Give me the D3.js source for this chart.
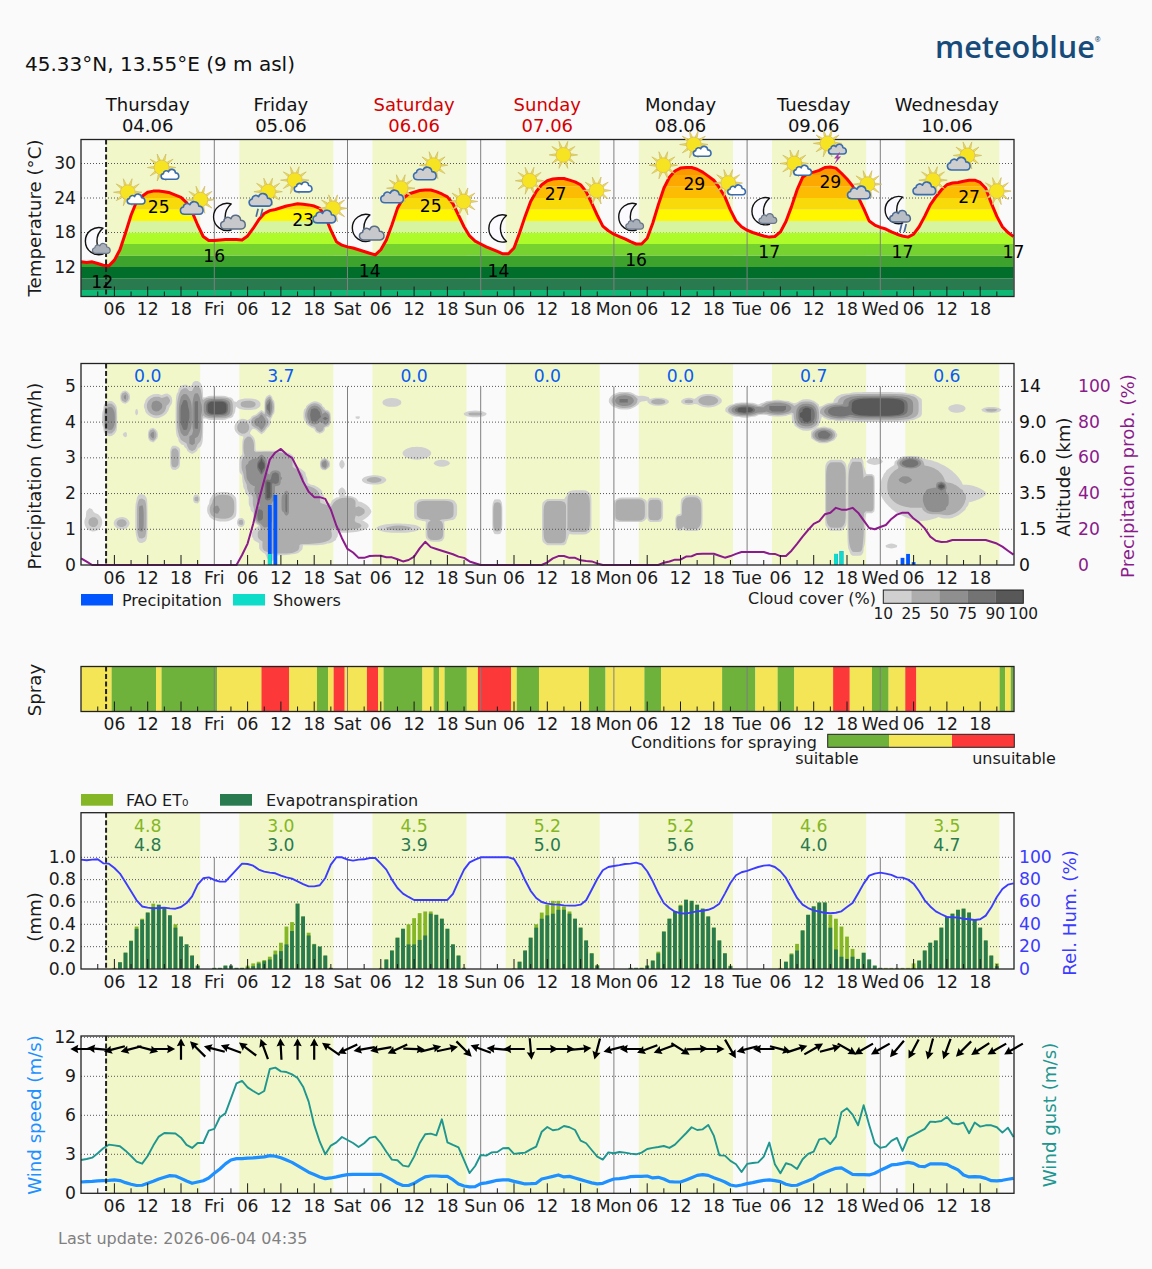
<!DOCTYPE html>
<html>
<head>
<meta charset="utf-8">
<script src="https://cdn.jsdelivr.net/npm/d3@7"></script>
<style>
html,body{margin:0;padding:0;background:#fafafa;}
svg{display:block;font-family:"DejaVu Sans",sans-serif;}
</style>
</head>
<body>
<script>
// Forecast series, hourly from Thursday 00:00 (hour 0) to the following Thursday 00:00 (hour 168)
const temperature = [12.9,12.8,12.9,12.6,12.3,12.2,13.2,15,17.9,21,23.4,24.3,25,25.2,25.2,25.1,24.9,24.5,24.1,23.2,21.6,19.3,17.3,16.6,
 16.6,16.7,16.8,16.8,16.8,16.7,17.4,18.7,20.2,21.3,21.8,22,22.3,22.6,22.8,23,22.9,22.8,22.6,22.2,20.8,18.4,16.4,15.8,
 15.5,15.3,15,14.7,14.4,14.1,15,16.7,19.3,22.2,23.9,24.7,25,25.3,25.4,25.4,25.1,24.7,24.2,23,21,19,17.4,16.5,
 16,15.5,15.1,14.7,14.3,14.3,15.3,17.9,20.8,23.4,25.1,26.3,27,27.3,27.4,27.4,27.1,26.8,26.3,25.1,23.1,21,19.1,18.3,
 17.7,17.3,16.9,16.4,16,16,17,19.6,22.8,25.7,27.6,28.7,29.2,29.3,29.3,29,28.5,27.8,27.1,25.8,24.2,21.9,20,19,
 18.4,18,17.7,17.4,17.2,17.3,18.1,19.9,22.5,25.4,27.6,28.3,28.5,28.8,29.3,29.4,29.2,28.3,27.3,26.1,24.2,22.2,20,19.3,
 18.9,18.6,18.1,17.7,17.4,17.2,17.7,19,20.8,22.8,24.2,25.4,26.3,26.6,26.7,26.9,27.1,27.1,26.7,25.7,23.1,20.8,19,18,17.3];

const precipProb = [3.7,1.9,0,0,0,0,0,0,0,0,0,0,0,0,0,0,0,0,0,0,0,0,0,0,
 0,0,0,0,0,5.6,12,23,36,47.6,59,63,65,62,60,54,46.7,41,38,38,37,31,22,15,
 9,7,4,4,5,5.2,5.2,4.3,4.3,3.2,2,2.8,4.7,9.3,13,10,9,8,7,6,4.7,4,2,1,
 0,0,0,0,0,0,0,0,0,0,0,0,1.5,3.7,5,5,4,4,2.6,2.2,2,.9,0,0,
 0,0,0,0,0,0,0,0,0,1.3,2,3,3,4.7,4.9,6.2,6.3,6.3,6.3,5.2,4.1,5,6.2,7.3,
 7.3,7.3,7.3,7.3,6.3,6.2,5,5,8,11.8,15.9,19.6,23,24.6,28.4,29.3,32,31,31,32,29.3,25,20.7,20,
 21.3,22.4,25.8,28.2,29.3,29.3,26,23.7,20.5,15.9,13.6,12.9,13,14,14,14,14,14,14,14,13,12,10.3,8,5.8];

const humidity = [97.9,97.3,97.9,98.2,94.6,94.3,90.4,85.4,77.6,69.6,61.5,56,54.9,54.3,54.6,54.9,54.3,54,55.5,59,65,75.5,81.2,82,
 79.7,78.2,78.2,83.6,89,94.3,94,92.5,89,87.2,86.3,85.7,83.6,82,80.9,78.5,76,74,74,75,81.5,93.4,100,100,
 97.9,97,97.9,98.2,99.4,99.4,94.3,89,80,72.5,67.5,64.5,61.8,61.8,61.8,61.8,61.8,61.8,61.8,67.2,78.5,89,95.5,97.9,
 100,100,100,100,100,100,98.5,90.4,79.4,70,63.6,60,58.5,57.9,57.6,57,56.7,56.7,57.6,61.5,71,80.6,88.4,91.3,
 92.2,93,94,94.3,95.2,93.7,87.5,78.5,68,59,54.6,51.3,49.9,49.6,50.7,51.6,52.2,53,55,58.5,67.5,77,83.9,86.6,
 87.8,89.6,91.3,92.5,93,91.3,87.5,81.5,72.5,63.6,57.6,54.6,52.5,51.3,50.4,49.9,50.4,51.6,55.5,59,67.5,76.4,83.6,85.4,
 86.3,85.4,84.2,82,81.8,80,76.4,69.6,61.5,56,51.6,49,46.6,46.3,46,45,44.5,43.9,44.5,47.8,55.2,64.5,71.6,75.5,76.7];

const etActual = [0,0,0,0,0,0,0,.06,.146,.25,.36,.44,.505,.555,.575,.55,.48,.37,.29,.22,.12,.03,0,0,
 .01,.01,.03,.03,.01,.01,.015,.025,.05,.07,.085,.13,.16,.22,.34,.585,.47,.30,.22,.20,.12,.01,0,0,
 0,0,0,0,0,0,0,.085,.165,.28,.36,.22,.22,.26,.30,.495,.485,.45,.36,.22,.12,.01,0,0,
 0,0,0,0,0,0,0,.065,.165,.28,.37,.45,.48,.495,.53,.53,.495,.45,.37,.255,.14,.03,0,0,
 0,0,0,.01,.01,.01,.03,.075,.14,.335,.45,.515,.565,.62,.61,.575,.54,.47,.37,.255,.14,.025,0,0,
 0,0,0,0,0,0,0,.065,.13,.165,.345,.485,.56,.595,.595,.37,.175,.11,.09,.11,.09,.145,.085,.03,
 .01,0,0,0,0,0,.01,.075,.165,.235,.255,.37,.47,.495,.53,.54,.505,.44,.37,.255,.12,.025,0,0,0];

const etFao = [0,0,0,0,0,0,.01,.06,.146,.255,.38,.45,.505,.585,.575,.55,.48,.40,.29,.22,.12,.03,0,0,
 .01,.01,.03,.03,.01,.01,.03,.05,.065,.08,.11,.165,.235,.38,.42,.585,.47,.325,.225,.20,.12,.01,0,0,
 0,0,0,0,0,0,.01,.085,.165,.28,.36,.40,.455,.50,.515,.515,.485,.45,.36,.22,.12,.01,0,0,
 0,0,0,0,0,0,.005,.065,.165,.28,.40,.505,.575,.61,.61,.56,.515,.45,.37,.255,.14,.035,0,0,
 0,0,0,.01,.01,.01,.03,.075,.155,.335,.45,.515,.575,.62,.61,.575,.54,.47,.37,.255,.14,.03,0,0,
 0,0,0,0,0,0,.01,.065,.14,.225,.345,.485,.56,.595,.595,.485,.45,.38,.29,.18,.09,.145,.085,.03,
 .01,.01,.01,.01,.01,.01,.05,.075,.165,.235,.255,.37,.47,.495,.53,.54,.505,.44,.37,.255,.12,.05,0,0,0];

const windSpeed = [.87,.9,.92,.95,.98,1,1.03,.98,.82,.7,.6,.62,.77,.92,1.1,1.23,1.36,1.33,1.15,.95,.77,.87,.97,1.18,
 1.54,1.87,2.26,2.56,2.67,2.67,2.7,2.72,2.77,2.8,2.9,2.85,2.74,2.56,2.38,2.13,1.87,1.62,1.44,1.26,1.13,1.18,1.26,1.36,
 1.44,1.46,1.46,1.46,1.46,1.46,1.46,1.26,1.03,.77,.6,.6,.77,1.03,1.26,1.33,1.33,1.3,1.3,1.05,.72,.56,.49,.51,
 .74,.8,.9,1,1.03,1.03,.92,.82,.72,.74,.77,1.1,1.2,1.3,1.41,1.26,1.3,1.18,1.05,.92,.8,.72,.77,.95,
 1.1,1.13,1.18,1.28,1.3,1.3,1.33,1.18,1.23,1.1,.9,.87,.87,1.03,1.2,1.38,1.44,1.38,1.2,1.05,.87,.64,.56,.64,
 .74,.82,.92,1,1.03,.97,.9,.7,.6,.62,.8,.97,1.15,1.41,1.6,1.77,1.92,1.95,1.7,1.46,1.44,1.44,1.41,1.54,
 1.77,1.97,2.18,2.23,2.3,2.38,2.3,2.08,2.05,2.26,2.26,2.26,2.23,2,1.8,1.41,1.26,1.28,1.26,1.15,.97,.95,1,1.08,1.15];

const windGust = [2.56,2.64,2.74,3.08,3.46,3.74,3.69,3.62,3.28,2.87,2.44,2.28,2.87,3.67,4.36,4.64,4.62,4.6,4.28,3.72,3.49,3.87,3.87,4.82,
 4.95,5.85,6.15,7.3,8.46,8.64,8.15,7.87,7.62,7.87,9.56,9.67,9.38,9.33,9.15,8.87,8.2,7.05,5.26,3.97,3,3.67,3.92,4.33,
 4.1,3.87,3.56,3.85,4.26,4.36,3.85,3.2,2.59,2.54,2.13,2.05,2.82,3.85,4.54,4.59,4.46,5.69,3.92,3.72,3.54,2.56,1.56,2.1,
 2.95,2.9,3.15,3.18,3.46,3.49,3.03,3.08,3.13,3.38,3.59,4.74,5.1,4.85,4.92,5.18,5.08,4.87,4.05,3.85,3.33,2.82,2.59,3.15,
 3.08,3.18,3.13,3.05,3,3.13,3.41,3.49,3.56,3.64,3.49,3.74,4.18,4.62,5.08,4.87,4.92,5.26,4.44,2.92,2.9,2.49,2.23,1.64,
 2.26,2.33,2.38,2.82,3.9,2.23,1.54,2.31,2.18,1.87,2.62,3.03,3.21,4.15,4.23,3.79,4.36,6.23,6.54,6.05,5.23,6.77,5.26,3.85,
 3.49,3.59,4.03,4.26,3.26,4.28,4.49,4.72,4.95,5.51,5.49,5.56,5.87,5.38,5.31,5.44,4.62,5.44,5.13,5.23,5.23,5.08,4.67,5.05,4.33];

// Wind direction in degrees (0 = towards east, 90 = towards north), one arrow per 3 hours
const windDirections = [180,175,195,195,-15,0,90,135,165,160,143,110,93,90,90,145,205,190,190,205,-2,15,12,-45,160,175,180,-85,0,0,
 5,-105,195,180,200,200,-32,2,0,-60,195,180,-15,18,30,15,-30,210,210,230,242,255,250,225,213,210,210];

// Precipitation bars: hour, total mm/h, share falling as showers
const rainHours = [34,35,136,137,148,149,150];
const rainAmounts = [1.68,1.96,.31,.39,.2,.31,.08];
const showerAmounts = [.31,0,.31,.39,0,0,0];

const dayNames = ["Thursday","Friday","Saturday","Sunday","Monday","Tuesday","Wednesday"];
const dayDates = ["04.06","05.06","06.06","07.06","08.06","09.06","10.06"];
const weekendDays = [2,3];
const shortDays = ["Thu","Fri","Sat","Sun","Mon","Tue","Wed"];
const rainTotals = ["0.0","3.7","0.0","0.0","0.0","0.7","0.6"];
const faoTotals = ["4.8","3.0","4.5","5.2","5.2","4.6","3.5"];
const etTotals = ["4.8","3.0","3.9","5.0","5.6","4.0","4.7"];

const sunrise = 4.5, sunset = 21.45, nowHour = 4.5;

// Temperature annotations: hour and rounded value
const tempLabelHours = [3.8,14,24,40,52,63,75.2,85.5,100,110.5,124,135,148,160,168];
const tempLabelValues = [12,25,16,23,14,25,14,27,16,29,17,29,17,27,17];
const tempLabelDrop = [15,15,12,16,15,14,15,13,16,15,14,13,14,16,14];

const tempBands = [6,8,10,12,14,16,18,20,22,24,26,28,30,32];
const tempBandColors = ["#10b876","#2a7a50","#016f2b","#3da32d","#76d22f","#adfc2a","#d7f5a0","#fff700","#f8da0a","#fdbc04","#fca800","#fb9a00","#fa8200"];

// Weather pictograms: hour, height on the temperature scale, symbol
const iconHours = [2.5,8.4,14.5,21.5,25.6,33.7,38.5,45.4,50.6,57.6,63.5,68.9,75.2,80.8,86.9,92.9,98.6,104.9,110.4,116.6,122.6,128.5,134.5,141.7,146.6,153.5,159.7,165];
const iconTemps = [16.5,25,29.3,23.7,20.7,25.1,27.1,22.2,18.8,25.7,29.7,23.4,18.7,27,31.5,25.3,20.7,29.7,33.3,26.6,21.7,30,33.5,26.4,21.9,27.1,31.4,25.2];
const iconKinds = ["moonSmall","sunWhite","sunWhite","sunGray","moonBig","sunRain","sunWhite","sunGray","moonBig","sunGray","sunGray","sun",
 "moon","sun","sun","sun","moonSmall","sun","sunWhite","sunWhite","moonSmall","sunWhite","sunStorm","sunGray","moonRain","sunGray","sunGray","sun"];

// Spraying conditions: end hour of each run and its class (0 suitable, 1 marginal, 2 unsuitable)
const sprayEnds = [5.5,13.5,14.5,24.5,32.5,37.5,42.5,44.5,45.5,47.5,51.5,53.5,54.5,61.5,63.5,64.5,65.5,69.5,71.5,77.5,78.5,82.5,91.5,94.5,101.5,104.5,115.5,121.5,125.5,128.5,135.5,138.5,142.5,145.5,148.5,150.5,165.5,166.5,167.5,168];
const sprayClass = [1,0,1,0,1,2,1,0,1,2,1,2,1,0,1,0,1,0,1,2,1,0,1,0,1,0,1,0,1,0,1,2,1,0,1,2,1,0,1,0];
const sprayColors = ["#6eb13b","#f3e555","#fd3838"];

// Cloud cover patches: hour, altitude level, half-width (h), half-height (level), peak %, shape exponent, edge softness
const cloudPatches = [
 [2.2,1.2,1.6,.26,30,2,.6],[1.6,1.4,.8,.2,16,2,.5],[5.2,4.1,1.3,.48,72,2.5,.5],[7.9,4.7,.8,.18,55,2,.6],[9.9,4.28,.3,.1,20,2,.5],[7.9,3.65,.4,.08,22,2,.5],
 [13.6,4.45,2.2,.33,55,2,.6],[15.4,4.6,1,.2,30,2,.5],[12.9,3.64,.8,.2,60,2,.6],[16.9,3,.8,.33,42,4,.4],
 [18.7,4.2,1.6,.85,82,2.5,.55],[20.8,4.2,1.2,.95,78,3,.6],[20,3.5,1.3,.38,50,2,.5],[24.5,4.4,3.1,.32,100,3.5,.5],
 [7.3,1.17,1.4,.17,36,2,.6],[10.9,1.3,1,.67,55,4,.5],[20.8,1.85,.6,.13,35,2,.6],[25.6,1.63,2.4,.4,46,3,.4],[24.4,1.55,1.6,.3,55,2,.7],[28.8,1.19,.7,.13,35,2,.6],
 [30.1,4.5,2.2,.16,30,2.5,.5],[33.9,4.42,.8,.34,80,2,.5],[32.2,4,1.9,.22,58,2,.5],[32.5,4,.9,.32,72,2,.5],[30.2,3.3,1.1,.36,45,2.5,.4],[29.2,3.85,1.5,.24,38,2,.5],
 // Friday's main cloud mass: stacked slabs leaning to the right with height
 [33.5,2.8,5,.4,47,3,.2],[35,2.3,5.6,.5,47,3,.2],[37,1.8,6.6,.5,47,3,.2],[39.3,1.3,7.2,.5,47,3,.2],[38.5,.85,7.6,.3,47,3,.3],[36,.55,3.8,.26,47,3,.3],[34.2,.4,1,.3,22,2,.5],
 [31.2,2.6,2.2,.55,60,2,.4],[33.2,2.1,2.4,.65,70,2,.4],[33.2,1.4,1.5,.5,66,2,.4],
 [32.5,2.78,1,.4,95,2,.5],[33.7,2.1,1,.5,95,2,.5],[35,2.43,1.4,.3,85,2,.5],[32.2,1.4,1.1,.3,85,2,.5],[36.9,1.73,.6,.46,85,4,.5],
 [47.2,1.4,2.4,.5,48,3,.3],[50,1.5,2.3,.28,26,1.5,.5],[48.4,1.1,3.4,.18,30,2,.5],[47.8,1.72,2,.2,45,3,.4],
 [42.1,4.2,1.9,.37,80,2,.5],[44,4.1,1,.25,75,2,.5],[43,3.83,.9,.15,40,2,.5],[43.9,2.82,.8,.17,65,2,.5],[47,2.82,.5,.14,20,2,.5],[47,2.04,.6,.14,25,2,.5],[49.9,4.13,.6,.04,15,2,.5],
 [52.8,2.38,2.2,.13,30,2,.5],[56,4.55,1.8,.13,18,2,.5],[60.5,3.13,2.6,.18,22,2,.5],[65,2.85,1.5,.1,18,2,.5],[57.2,1.03,4,.13,28,2,.5],
 [63.8,1.54,3.8,.3,45,5,.3],[63.8,.98,1.6,.32,45,4,.3],
 [71,4.23,2.1,.09,30,2,.5],[75,1.35,.78,.48,46,5,.35],[85.4,1.2,2.2,.65,45,6,.2],[89.6,1.47,2.2,.6,45,6,.2],
 [97.9,4.6,2.7,.24,75,2,.6],[101,4.66,1.5,.08,20,2,.5],[104,4.57,1.9,.11,40,2,.6],[109.5,4.58,1.4,.1,30,2,.5],[113,4.6,2.4,.18,40,2,.5],
 [98.9,1.54,2.9,.33,45,6,.2],[103.4,1.54,1.3,.33,45,6,.3],[110,1.45,1.9,.5,45,4,.25],[107.9,1.19,.75,.22,45,4,.4],
 [119.6,4.34,3.4,.2,95,2,.6],[122,4.34,2.6,.12,70,2,.5],[125.5,4.39,3.6,.22,75,2,.5],[130.7,4.2,2.5,.42,90,2.5,.5],[133.8,3.64,2.3,.22,80,2,.5],
 [136.8,4.3,4,.26,85,2,.5],[143.6,4.42,7.9,.4,100,4,.45],
 [157.8,4.38,1.6,.12,22,2,.5],[164,4.34,1.8,.08,30,2,.5],
 [136,1.96,1.8,.98,45,6,.15],[139.7,1.63,1.4,1.35,45,6,.15],[142,2,1,.55,45,5,.2],[143,2.9,1.5,.1,18,2,.5],[146,.53,1.1,.07,20,2,.5],
 // Wednesday's broad mid-level cloud
 [151.5,2.1,7.6,.87,24,1.7,.5],[150.5,2.2,6.3,.72,46,2.3,.4],[156,1.85,4,.55,46,1.8,.4],[149.4,2.85,2.7,.2,85,2,.5],[148.5,2.38,1.8,.15,60,2,.5],[155,2.2,1.1,.18,92,2,.5],[154,1.82,2.8,.44,60,3,.3],[159.5,2,3.6,.25,24,1.5,.4]
];
const cloudLevels = [10,25,50,75,90];
const cloudColors = ["#d0d0d0","#adadad","#8f8f8f","#737373","#585858"];
const cloudLegendTicks = ["10","25","50","75","90","100"];

const precipTicks = [0,1,2,3,4,5];
const altitudeLabels = ["0","1.5","3.5","6.0","9.0","14"];
const probTicks = [0,20,40,60,80,100];
const etTicks = [0,.2,.4,.6,.8,1];
const humTicks = [0,20,40,60,80,100];
const windTicks = [0,3,6,9,12];
const tempTicks = [12,18,24,30];

const width = 1152, height = 1269;
const svg = d3.select("body").append("svg").attr("width", width).attr("height", height);
svg.append("rect").attr("width", width).attr("height", height).attr("fill", "#fafafa");

const hours = d3.range(169);
const dayIdx = d3.range(7);
const x = d3.scaleLinear().domain([0,168]).range([81.1,1013.5]);
const INK = "#1a1a1a", TICK_FS = 17.2, DAY_LINE = "#7f7f7f";
const PURPLE = "#8b1a8b", HUM = "#3c3cff", SPEED = "#1e90ff", GUST = "#1f968f", RAIN = "#0055ff", SHOWER = "#0cdcc8";
const FAO = "#84b626", ET = "#2a7a50", RAINTXT = "#0a5cf0", SHADE = "#f1f7c8";

function text(sel, px, py, str, o) {
  o = o || {};
  return sel.append("text").attr("x", px).attr("y", py).text(str)
    .attr("font-size", o.size || TICK_FS).attr("fill", o.fill || INK)
    .attr("text-anchor", o.anchor || "middle").attr("dominant-baseline", "central");
}
function vtext(px, py, str, fill, size) {
  return svg.append("text").attr("transform", `translate(${px},${py}) rotate(-90)`).text(str)
    .attr("font-size", size || 18.2).attr("fill", fill || INK)
    .attr("text-anchor", "middle").attr("dominant-baseline", "central");
}

// One shared frame: background day shading first, foreground axes later
function panel(top, bottom) {
  const g = svg.append("g");
  g.selectAll("rect.day").data(dayIdx).join("rect").attr("class","day")
    .attr("x", d => x(d*24+sunrise)).attr("width", d => x(d*24+sunset)-x(d*24+sunrise))
    .attr("y", top).attr("height", bottom-top).attr("fill", SHADE);
  return {g, top, bottom};
}
function gridLines(p, ys) {
  p.g.selectAll(null).data(ys).join("line")
    .attr("x1", 81).attr("x2", 1014).attr("y1", d=>d).attr("y2", d=>d)
    .attr("stroke", "#555").attr("stroke-width", 1).attr("stroke-dasharray", "1,2");
}
function dayLines(p, from) {
  p.g.selectAll(null).data(d3.range(1,7)).join("line")
    .attr("x1", d=>x(d*24)).attr("x2", d=>x(d*24)).attr("y1", from).attr("y2", p.bottom)
    .attr("stroke", DAY_LINE).attr("stroke-width", 1);
}
function finish(p) {
  const {g, top, bottom} = p;
  g.append("line").attr("x1", x(nowHour)).attr("x2", x(nowHour)).attr("y1", top).attr("y2", bottom)
    .attr("stroke", "#222").attr("stroke-width", 2).attr("stroke-dasharray", "5,2.5");
  const bx = g.append("g").attr("transform", `translate(0,${bottom})`);
  const major = d3.axisBottom(x).offset(0).tickValues(d3.range(6,168,6)).tickSize(-10).tickPadding(6.3)
    .tickFormat(h => h%24===0 ? shortDays[h/24] : d3.format("02")(h%24));
  const minor = d3.axisBottom(x).offset(0).tickValues(d3.range(3,168,6)).tickSize(-5).tickFormat("");
  bx.append("g").call(major).call(a => {
    a.select(".domain").remove();
    a.selectAll("text").attr("font-size", TICK_FS).attr("fill", INK).attr("font-family", "DejaVu Sans");
    a.selectAll("line").attr("stroke", INK).attr("stroke-width", 1);
    a.selectAll(".tick").filter(h => h%24===0).select("line").remove();
  });
  bx.append("g").call(minor).call(a => {
    a.select(".domain").remove();
    a.selectAll("line").attr("stroke", INK).attr("stroke-width", 1);
  });
  g.append("rect").attr("x", 81).attr("y", top).attr("width", 933).attr("height", bottom-top)
    .attr("fill", "none").attr("stroke", "#222").attr("stroke-width", 1.3);
}
function leftAxis(scale, ticks, fmt) {
  svg.append("g").attr("transform", "translate(81,0)")
    .call(d3.axisLeft(scale).offset(0).tickValues(ticks).tickSize(0).tickPadding(5).tickFormat(fmt || (d=>d)))
    .call(a => { a.select(".domain").remove();
      a.selectAll("text").attr("font-size", TICK_FS).attr("fill", INK).attr("font-family","DejaVu Sans"); });
}
function rightAxis(scale, ticks, xpos, fill, fmt) {
  svg.append("g").attr("transform", `translate(${xpos},0)`)
    .call(d3.axisRight(scale).offset(0).tickValues(ticks).tickSize(0).tickPadding(0).tickFormat(fmt || (d=>d)))
    .call(a => { a.select(".domain").remove();
      a.selectAll("text").attr("font-size", TICK_FS).attr("fill", fill).attr("font-family","DejaVu Sans"); });
}

/* ---------- header ---------- */
text(svg, 25, 64, "45.33°N, 13.55°E (9 m asl)", {anchor:"start", size:20, fill:"#111"});
const logo = svg.append("text").attr("x", 935).attr("y", 58)
  .attr("font-family", "'Open Sans',sans-serif").attr("font-weight", 600).attr("font-size", 30.6).attr("fill", "#174b7a");
logo.append("tspan").text("meteoblue");
logo.append("tspan").text("®").attr("font-size", 7).attr("dy", -16);

dayIdx.forEach(d => {
  const col = weekendDays.includes(d) ? "#d40000" : "#111";
  text(svg, x(d*24+12), 104.7, dayNames[d], {size:18, fill:col});
  text(svg, x(d*24+12), 125.7, dayDates[d], {size:18, fill:col});
});

/* ---------- temperature ---------- */
const yT = d3.scaleLinear().domain([12,30]).range([267,163.5]);
const p1 = panel(139.5, 296.5);
gridLines(p1, tempTicks.map(yT));
const tempArea = d3.area().x((d,i)=>x(i)).y0(p1.bottom).y1(d=>yT(d));
svg.append("clipPath").attr("id","underTemp").append("path").attr("d", tempArea(temperature));
p1.g.append("g").attr("clip-path","url(#underTemp)").selectAll("rect").data(tempBandColors).join("rect")
  .attr("x", 81).attr("width", 933)
  .attr("y", (c,i)=>yT(tempBands[i+1])).attr("height", (c,i)=>yT(tempBands[i])-yT(tempBands[i+1]))
  .attr("fill", d=>d);
dayLines(p1, p1.top);
svg.append("clipPath").attr("id","plotTemp").append("rect").attr("x",81).attr("y",139).attr("width",933).attr("height",158);
p1.g.append("path").datum(temperature).attr("d", d3.line().x((d,i)=>x(i)).y(d=>yT(d)))
  .attr("fill","none").attr("stroke","#ff0000").attr("stroke-width",3).attr("stroke-linejoin","round")
  .attr("clip-path","url(#plotTemp)");
finish(p1);
leftAxis(yT, tempTicks);
vtext(34, 218, "Temperature (°C)");
tempLabelValues.forEach((v,i) => text(svg, x(tempLabelHours[i]), yT(v)+tempLabelDrop[i], v, {fill:"#000"}));

// Pictogram drawing
function sunIcon(g, cx, cy) {
  const s = g.append("g").attr("transform",`translate(${cx},${cy})`);
  d3.range(10).forEach(i => {
    const a = i*36*Math.PI/180, b = 0.13, r0 = 8, r1 = 14.2;
    s.append("path").attr("d",
      `M${r0*Math.cos(a-b)},${r0*Math.sin(a-b)}L${r1*Math.cos(a)},${r1*Math.sin(a)}L${r0*Math.cos(a+b)},${r0*Math.sin(a+b)}Z`)
      .attr("fill","#f4e23e").attr("stroke","#cdb96a").attr("stroke-width",.7);
  });
  s.append("circle").attr("r",7.4).attr("fill","#f6e422").attr("stroke","#dcc050").attr("stroke-width",.9);
}
function cloudIcon(g, cx, cy, w, fill, stroke, sw) {
  g.append("path")
    .attr("d","M-.32,.26C-.54,.26-.56,-.01-.37,-.05C-.37,-.2-.19,-.26-.09,-.15C-.02,-.36.28,-.32.3,-.09C.52,-.09.56,.26.32,.26Z")
    .attr("transform",`translate(${cx},${cy}) scale(${w})`)
    .attr("fill",fill).attr("stroke",stroke).attr("stroke-width",(sw||1.6)/w).attr("stroke-linejoin","round");
}
function moonIcon(g, cx, cy) {
  g.append("path").attr("d","M8,-13A13.6,13.6 0 1 0 8,13A17,17 0 0 1 8,-13Z")
    .attr("transform",`translate(${cx},${cy})`)
    .attr("fill","#fbfbff").attr("stroke","#111").attr("stroke-width",1.4).attr("stroke-linejoin","round");
}
function rainIcon(g, cx, cy) {
  [0,4.5].forEach(o => g.append("line").attr("x1",cx+o+1).attr("x2",cx+o-1).attr("y1",cy-4).attr("y2",cy+4)
    .attr("stroke","#4a6c9c").attr("stroke-width",1.7));
}
const iconLayer = svg.append("g");
const BLUE_EDGE = "#3a6cae", NIGHT_EDGE = "#6a7688", GRAY = "#cecece";
iconKinds.forEach((k,i) => {
  const cx = x(iconHours[i]), cy = yT(iconTemps[i]);
  if (k.startsWith("sun")) sunIcon(iconLayer, cx, cy);
  if (k.startsWith("moon")) moonIcon(iconLayer, cx, cy);
  if (k==="sunWhite") cloudIcon(iconLayer, cx+8.5, cy+7, 18, "#fff", BLUE_EDGE);
  if (k==="sunGray") cloudIcon(iconLayer, cx-8.5, cy+8.5, 23, GRAY, BLUE_EDGE);
  if (k==="sunRain") { cloudIcon(iconLayer, cx-7.5, cy+8.5, 23, GRAY, BLUE_EDGE); rainIcon(iconLayer, cx-11, cy+21); }
  if (k==="sunStorm") {
    cloudIcon(iconLayer, cx+10, cy+6, 18, GRAY, BLUE_EDGE);
    iconLayer.append("path").attr("d","M2,-5L-3,1L0,1L-3,7L4,-1L1,-1L3,-5Z").attr("transform",`translate(${cx+9.5},${cy+14})`).attr("fill","#a23fa6");
  }
  if (k==="moonSmall") cloudIcon(iconLayer, cx+6.5, cy+7.5, 18, "#a9b0ba", NIGHT_EDGE, 1.2);
  if (k==="moonBig") cloudIcon(iconLayer, cx+10, cy+5.5, 25, "#c6c8cc", "#5b6c84", 1.5);
  if (k==="moonRain") { cloudIcon(iconLayer, cx+5.5, cy+6.5, 21, "#b9bdc4", "#4d6a92", 1.5); rainIcon(iconLayer, cx+6, cy+18); }
});

/* ---------- precipitation and cloud cover ---------- */
const yP = d3.scaleLinear().domain([0,5]).range([565,386.4]);
const yProb = d3.scaleLinear().domain([0,100]).range([565,386.4]);
const p2 = panel(363.5, 565);

// Cover field sampled on a half-hour / 0.05-level grid, then contoured at the legend classes
const dh = .5, dl = .05, nx = 337, ny = 114;
const field = new Float64Array(nx*ny);
for (let j=0;j<ny;j++) for (let i=0;i<nx;i++) {
  let f = 0;
  for (const [h,l,rx,ry,peak,n,s] of cloudPatches) {
    const ax = Math.abs(i*dh-h)/rx, ay = Math.abs(j*dl-l)/ry;
    if (ax>1.3 || ay>1.3) continue;
    const r = Math.pow(Math.pow(ax,n)+Math.pow(ay,n),1/n);
    const v = r<1 ? 10+(peak-10)*Math.min(1,(1-r)/s) : Math.max(0,10-(r-1)*30);
    if (v>f) f=v;
  }
  field[j*nx+i]=f;
}
const contourPath = d3.geoPath(d3.geoTransform({point(a,b){ this.stream.point(x((a-.5)*dh), yP((b-.5)*dl)); }}));
svg.append("clipPath").attr("id","plotRain").append("rect").attr("x",81).attr("y",363.5).attr("width",933).attr("height",201.5);
p2.g.append("g").attr("clip-path","url(#plotRain)").selectAll("path")
  .data(d3.contours().size([nx,ny]).thresholds(cloudLevels)(field)).join("path")
  .attr("d", contourPath).attr("fill",(d,i)=>cloudColors[i]);

gridLines(p2, precipTicks.slice(1).map(yP));
dayLines(p2, yP(5));
p2.g.append("g").selectAll("rect").data(rainHours).join("rect")
  .attr("x",h=>x(h)-1.9).attr("width",3.8)
  .attr("y",(h,i)=>yP(rainAmounts[i])).attr("height",(h,i)=>yP(0)-yP(rainAmounts[i])).attr("fill",RAIN);
p2.g.append("g").selectAll("rect").data(rainHours).join("rect")
  .attr("x",h=>x(h)-1.9).attr("width",3.8)
  .attr("y",(h,i)=>yP(showerAmounts[i])).attr("height",(h,i)=>yP(0)-yP(showerAmounts[i])).attr("fill",SHOWER);
p2.g.append("path").datum(precipProb).attr("d", d3.line().x((d,i)=>x(i)).y(d=>yProb(d)))
  .attr("fill","none").attr("stroke",PURPLE).attr("stroke-width",2).attr("stroke-linejoin","round");
finish(p2);
leftAxis(yP, precipTicks);
rightAxis(yP, precipTicks, 1019, "#111", d=>altitudeLabels[d]);
rightAxis(yProb, probTicks, 1078, PURPLE);
vtext(34, 476, "Precipitation (mm/h)");
vtext(1063, 477, "Altitude (km)");
vtext(1127, 476, "Precipitation prob. (%)", PURPLE);
dayIdx.forEach(d => text(svg, x(d*24+12), 376, rainTotals[d], {fill:RAINTXT}));

// Rain and cloud legends
function swatch(px, py, w, h, fill) { svg.append("rect").attr("x",px).attr("y",py).attr("width",w).attr("height",h).attr("fill",fill); }
swatch(81,594,32,11.5,RAIN);
text(svg,122,600.5,"Precipitation",{anchor:"start",size:16});
swatch(233,594,32,11.5,SHOWER);
text(svg,273,600.5,"Showers",{anchor:"start",size:16});
text(svg,876,598.5,"Cloud cover (%)",{anchor:"end",size:16});
const cloudKey = d3.scaleBand().domain(cloudColors).range([883.3,1023.3]);
svg.append("g").selectAll("rect").data(cloudColors).join("rect")
  .attr("x",d=>cloudKey(d)).attr("width",cloudKey.bandwidth()).attr("y",590).attr("height",13.3).attr("fill",d=>d);
svg.append("rect").attr("x",883.3).attr("y",590).attr("width",140).attr("height",13.3).attr("fill","none").attr("stroke","#222").attr("stroke-width",1);
cloudLegendTicks.forEach((t,i)=>text(svg,883.3+i*28,613.5,t,{size:15.4}));

/* ---------- spraying conditions ---------- */
const p3 = panel(666.5, 711.5);
const sprayRuns = sprayEnds.map((e,i)=>({start:i?sprayEnds[i-1]:0,end:e,cls:sprayClass[i]}));
p3.g.append("g").selectAll("rect").data(sprayRuns).join("rect")
  .attr("x",d=>x(d.start)).attr("width",d=>x(d.end)-x(d.start))
  .attr("y",p3.top).attr("height",p3.bottom-p3.top).attr("fill",d=>sprayColors[d.cls]);
dayLines(p3, p3.top);
finish(p3);
vtext(34, 690, "Spray");
text(svg,817,742,"Conditions for spraying",{anchor:"end",size:16});
const sprayKey = [[827.7,889],[889,952],[952,1014.3]];
svg.append("g").selectAll("rect").data(sprayKey).join("rect")
  .attr("x",d=>d[0]).attr("width",d=>d[1]-d[0]).attr("y",734.3).attr("height",13).attr("fill",(d,i)=>sprayColors[i]);
svg.append("rect").attr("x",827.7).attr("y",734.3).attr("width",186.6).attr("height",13).attr("fill","none").attr("stroke","#222").attr("stroke-width",1);
text(svg,827,758,"suitable",{size:16});
text(svg,1014,758,"unsuitable",{size:16});

/* ---------- evapotranspiration and humidity ---------- */
const yE = d3.scaleLinear().domain([0,1]).range([969,857.3]);
const yH = d3.scaleLinear().domain([0,100]).range([969,857.3]);
const p4 = panel(812.7, 969);
gridLines(p4, etTicks.slice(1).map(yE));
dayLines(p4, yE(1));
[[etFao,FAO],[etActual,ET]].forEach(([series,fill]) => {
  p4.g.append("g").selectAll("rect").data(hours.filter(h=>series[h]>0)).join("rect")
    .attr("x",h=>x(h)-1.9).attr("width",3.8)
    .attr("y",h=>yE(series[h])).attr("height",h=>yE(0)-yE(series[h])).attr("fill",fill);
});
p4.g.append("path").datum(humidity).attr("d", d3.line().x((d,i)=>x(i)).y(d=>yH(d)))
  .attr("fill","none").attr("stroke",HUM).attr("stroke-width",1.9).attr("stroke-linejoin","round");
finish(p4);
leftAxis(yE, etTicks, d3.format(".1f"));
rightAxis(yH, humTicks, 1019, HUM);
vtext(34, 917, "(mm)");
vtext(1069, 913, "Rel. Hum. (%)", HUM);
dayIdx.forEach(d => {
  text(svg, x(d*24+12), 826, faoTotals[d], {fill:FAO});
  text(svg, x(d*24+12), 845, etTotals[d], {fill:ET});
});
swatch(81,794,32,11.7,FAO);
text(svg,126,800.5,"FAO ET₀",{anchor:"start",size:16});
swatch(220,794,32,11.7,ET);
text(svg,266,800.5,"Evapotranspiration",{anchor:"start",size:16});

/* ---------- wind ---------- */
const yW = d3.scaleLinear().domain([0,12]).range([1193.3,1037.3]);
const p5 = panel(1036, 1193.3);
gridLines(p5, windTicks.slice(1).map(yW));
dayLines(p5, p5.top);
p5.g.append("path").datum(windGust).attr("d", d3.line().x((d,i)=>x(i)).y(d=>yW(d)))
  .attr("fill","none").attr("stroke",GUST).attr("stroke-width",1.9).attr("stroke-linejoin","round");
p5.g.append("path").datum(windSpeed).attr("d", d3.line().x((d,i)=>x(i)).y(d=>yW(d)))
  .attr("fill","none").attr("stroke",SPEED).attr("stroke-width",3.2).attr("stroke-linejoin","round");
finish(p5);
svg.append("g").selectAll("path").data(windDirections).join("path")
  .attr("d","M-10.8,-1.1L3.6,-1.1L2.8,-4.2L10.8,0L2.8,4.2L3.6,1.1L-10.8,1.1Z")
  .attr("transform",(a,i)=>`translate(${x(i*3)},1049) rotate(${-a})`).attr("fill","#000");
leftAxis(yW, windTicks);
vtext(34, 1115, "Wind speed (m/s)", SPEED);
vtext(1049, 1115, "Wind gust (m/s)", GUST);

text(svg,58,1238.5,"Last update: 2026-06-04 04:35",{anchor:"start",size:16,fill:"#808080"});
</script>
</body>
</html>
